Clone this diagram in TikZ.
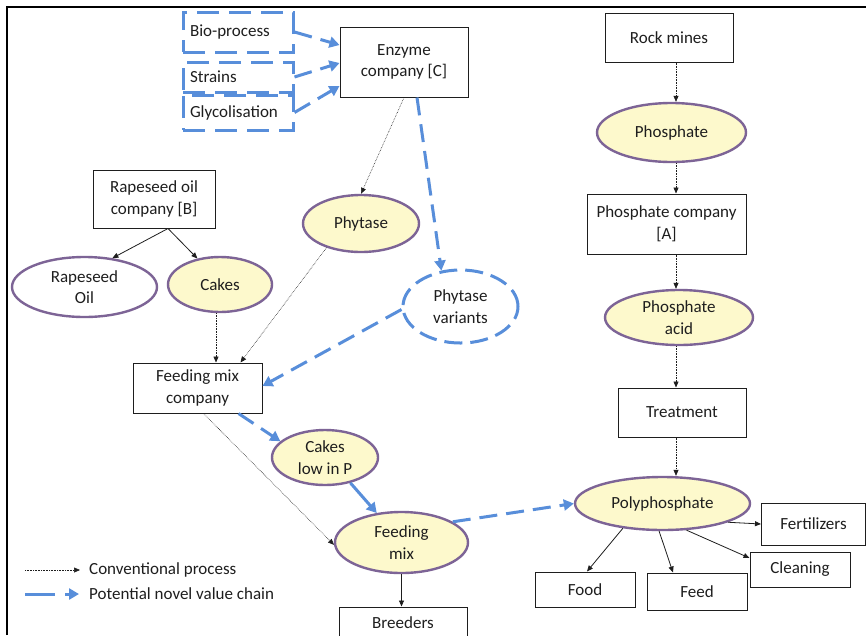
\documentclass[tikz,border=0pt]{standalone}
\usepackage{fontspec}
\setmainfont{Carlito}
\usetikzlibrary{shapes.geometric,arrows.meta,calc}

\definecolor{novelblue}{RGB}{88,142,218}
\definecolor{ovalfill}{RGB}{253,249,204}
\definecolor{ovaledge}{RGB}{125,100,150}
\definecolor{ink}{RGB}{30,30,30}

\tikzset{
  every node/.style={font=\fontsize{17}{21.5}\selectfont, text=ink, align=center, inner sep=1pt},
  box/.style={draw=ink, line width=1pt, fill=white},
  dbox/.style={draw=novelblue, line width=3pt, dash pattern=on 22pt off 10pt,
               text width=96pt, align=left, inner sep=7pt},
  oval/.style={ellipse, draw=ovaledge, line width=2.4pt, fill=ovalfill},
  dashoval/.style={ellipse, draw=novelblue, line width=3pt, dash pattern=on 18pt off 8pt, fill=white},
  conv/.style={draw=ink, line width=0.6pt, densely dotted, -{Triangle[length=6pt,width=5pt]}},
  plain/.style={draw=ink, line width=0.8pt, -{Triangle[length=6pt,width=5pt]}},
  novel/.style={draw=novelblue, line width=3pt, dash pattern=on 18pt off 9pt,
                -{Triangle[length=10pt,width=11pt]}},
  novelsolid/.style={draw=novelblue, line width=3pt, -{Triangle[length=10pt,width=11pt]}}
}

\begin{document}
\begin{tikzpicture}[x=1pt,y=-1pt]
\useasboundingbox (0,0) rectangle (866,635);
\fill[white] (0,0) rectangle (866,635);

% frame
\draw[line width=2pt, black] (7,635) -- (7,7) -- (866,7);

% enzyme branch
\node[dbox, minimum width=110pt, minimum height=40pt] (bio) at (238,32) {Bio-process};
\node[dbox, minimum width=110pt, minimum height=30pt] (str) at (238,77) {Strains};
\node[dbox, minimum width=110pt, minimum height=35pt] (gly) at (238,112.5) {Glycolisation};
\node[box, minimum width=128pt, minimum height=70pt] (enz) at (404,62) {Enzyme\\company [C]};
\node[oval, minimum width=116pt, minimum height=57pt] (phy) at (361,223.5) {Phytase};
\node[dashoval, minimum width=115pt, minimum height=73pt] (pv) at (460.5,306.5) {Phytase\\variants};

% rapeseed branch
\node[box, minimum width=122pt, minimum height=58pt] (rb) at (154,199) {Rapeseed oil\\company [B]};
\node[oval, fill=white, minimum width=145pt, minimum height=60pt] (ro) at (84.5,287) {Rapeseed\\Oil};
\node[oval, minimum width=104pt, minimum height=55pt] (cakes) at (220,284.5) {Cakes};
\node[box, minimum width=129pt, minimum height=50pt] (fmc) at (197.5,388) {Feeding mix\\company};
\node[oval, minimum width=106pt, minimum height=55pt] (clp) at (325,457.5) {Cakes\\low in P};
\node[oval, minimum width=133pt, minimum height=61pt] (fm) at (401.5,542.5) {Feeding\\mix};
\node[box, minimum width=128pt, minimum height=32pt] (breed) at (403,623) {Breeders};

% phosphate branch
\node[box, minimum width=128pt, minimum height=49pt] (rock) at (669,37.5) {Rock mines};
\node[oval, minimum width=149pt, minimum height=59pt] (phos) at (671.5,132.5) {Phosphate};
\node[box, minimum width=159pt, minimum height=60pt] (pco) at (666.5,224) {Phosphate company\\[0pt][A]};
\node[oval, minimum width=148pt, minimum height=55pt] (pacid) at (679,317.5) {Phosphate\\acid};
\node[box, minimum width=128pt, minimum height=49pt] (treat) at (682,412.5) {Treatment};
\node[oval, minimum width=175pt, minimum height=53pt] (poly) at (662.5,503.5) {Polyphosphate};
\node[box, minimum width=104pt, minimum height=42pt] (fert) at (813.5,524) {Fertilizers};
\node[box, minimum width=100pt, minimum height=35pt] (clean) at (800,569.5) {Cleaning};
\node[box, minimum width=100pt, minimum height=35pt] (food) at (585,589.5) {Food};
\node[box, minimum width=100pt, minimum height=37pt] (feed) at (697,591.5) {Feed};

% inputs of the enzyme company
\draw[novel] (bio.east) -- ($(enz.west)+(0,-17)$);
\draw[novel] (str.east) -- ($(enz.west)+(0,1)$);
\draw[novel] (gly.east) -- ($(enz.west)+(0,24)$);

\draw[conv] (enz.south) -- (phy.north);
\draw[novel] ([xshift=13pt]enz.south) -- (pv.118);

% rapeseed chain
\draw[plain] ([xshift=14pt]rb.south) -- (ro.46);
\draw[plain] ([xshift=14pt]rb.south) -- (cakes.131);
\draw[conv] ([xshift=-4pt]cakes.south) -- ([xshift=18.5pt]fmc.north);
\draw[conv] (phy.215) -- ([xshift=43pt]fmc.north);
\draw[novel] ([yshift=-3pt]pv.west) -- ([yshift=2pt]fmc.east);
\draw[novel] ([xshift=41pt]fmc.south) -- (clp.160);
\draw[conv] ([xshift=6pt]fmc.south) -- (fm.182);
\draw[novelsolid] (clp.-45) -- (fm.130);
\draw[novel] (fm.22) -- (poly.west);
\draw[plain] (fm.south) -- ([xshift=-1.5pt]breed.north);

% phosphate chain
\draw[conv] ([xshift=7pt]rock.south) -- ([xshift=4.5pt]phos.north);
\draw[conv] ([xshift=4.5pt]phos.south) -- ([xshift=9.5pt]pco.north);
\draw[conv] ([xshift=9.5pt]pco.south) -- ([xshift=-3pt]pacid.north);
\draw[conv] ([xshift=-3pt]pacid.south) -- ([xshift=-6pt]treat.north);
\draw[conv] ([xshift=-6pt]treat.south) -- ([xshift=13.5pt]poly.north);

\draw[plain] (poly.-16) -- (fert.west);
\draw[plain] (poly.-48) -- ([yshift=11.5pt]clean.west);
\draw[plain] (poly.-97) -- ([xshift=-24pt]feed.north);
\draw[plain] (poly.-148) -- ([xshift=2pt]food.north);

% legend
\coordinate (la) at (25,570);
\coordinate (lb) at (80,570);
\coordinate (lc) at (25,594);
\coordinate (ld) at (79,594);
\draw[conv] (la) -- (lb);
\draw[novel, dash pattern=on 30pt off 10pt] (lc) -- (ld);
\node[anchor=west] (lt1) at (88,570) {Conventional process};
\node[anchor=west] (lt2) at (88,594) {Potential novel value chain};
\end{tikzpicture}
\end{document}
